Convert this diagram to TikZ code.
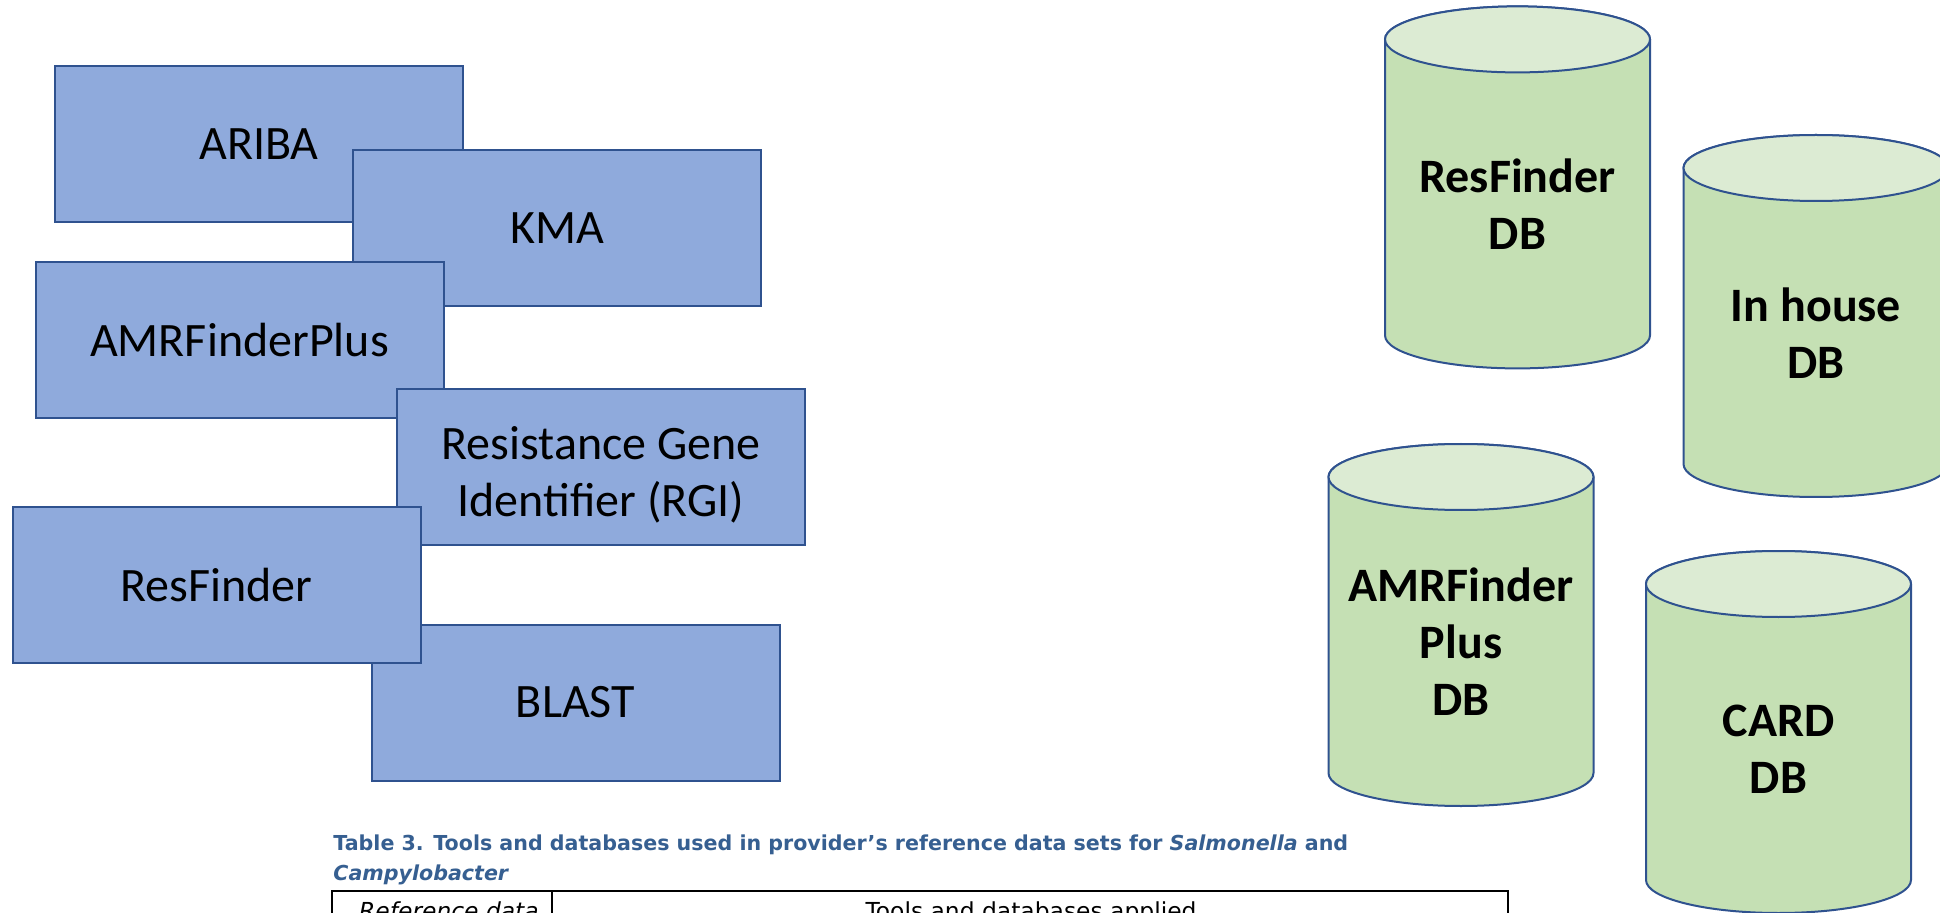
\documentclass[tikz,border=0pt]{standalone}
\usepackage{fontspec}
\setmainfont{Carlito}
\newfontfamily\verdana{DejaVu Sans}
\definecolor{toolfill}{HTML}{8FAADC}
\definecolor{shapeline}{HTML}{2F528F}
\definecolor{dbbody}{HTML}{C5E0B4}
\definecolor{dbtop}{HTML}{DCEBD3}
\definecolor{captionblue}{HTML}{365F91}
\tikzset{
  tool/.style={draw=shapeline, line width=1pt, fill=toolfill, minimum width=204pt,
    minimum height=78pt, inner sep=0pt, align=center, font=\fontsize{24}{29}\selectfont},
  dbside/.style={draw=shapeline, line width=1pt, fill=dbbody},
  dbcap/.style={draw=shapeline, line width=1pt, fill=dbtop},
  dbtext/.style={inner sep=0pt, align=center, font=\bfseries\fontsize{24}{28.5}\selectfont},
  caption/.style={anchor=base west, inner sep=0pt, text=captionblue,
    font=\verdana\bfseries\fontsize{10.3}{12}\selectfont},
  cell/.style={anchor=base, inner sep=0pt, font=\verdana\fontsize{11.7}{14}\selectfont}
}
\begin{document}
\begin{tikzpicture}[x=0.5pt,y=0.5pt]
\useasboundingbox (0,0) rectangle (1940,912);
\clip (0,0) rectangle (1940,912);
% tools
\node[tool] (ariba) at (259,767.5) {ARIBA};
\node[tool] (kma) at (557,683.5) {KMA};
\node[tool] (amrfp) at (239.5,572) {AMRFinderPlus};
\node[tool] (rgi) at (601,445) {\rule{0pt}{26pt}Resistance Gene\\Identifier (RGI)\rule[-5pt]{0pt}{5pt}};
\node[tool] (blast) at (575.5,209.5) {BLAST};
\node[tool] (resfinder) at (216.5,327) {ResFinder};
% databases
\foreach \nm/\cx/\cy/\txt in {resdb/1517.5/724.6/{ResFinder\\DB},
    housedb/1816/596/{In house\\DB},
    amrdb/1461/287/{AMRFinder\\Plus\\DB},
    carddb/1778.5/180/{CARD\\DB}}{
  \path[dbside] (\cx-132.5,\cy+148) -- (\cx-132.5,\cy-148)
    arc[start angle=180, end angle=360, x radius=132.5, y radius=33]
    -- (\cx+132.5,\cy+148)
    arc[start angle=0, end angle=180, x radius=132.5, y radius=33] -- cycle;
  \path[dbcap] (\cx,\cy+148) ellipse[x radius=132.5, y radius=33];
  \node[dbtext] (\nm) at (\cx,\cy-17) {\txt};
}
% table caption
\node[caption] (cap1) at (333,62) {Table 3. Tools and databases used in provider’s reference data sets for \textit{Salmonella} and};
\node[caption] (cap2) at (333,32) {\textit{Campylobacter}};
\draw[line width=0.6pt] (332,-10) -- (332,21) -- (1508,21) -- (1508,-10);
\draw[line width=0.6pt] (552,21) -- (552,-10);
\node[cell, font=\verdana\itshape\fontsize{11.7}{14}\selectfont] (refcol) at (449,-7) {Reference data};
\node[cell] (toolcol) at (1031,-7) {Tools and databases applied};
\end{tikzpicture}
\end{document}
